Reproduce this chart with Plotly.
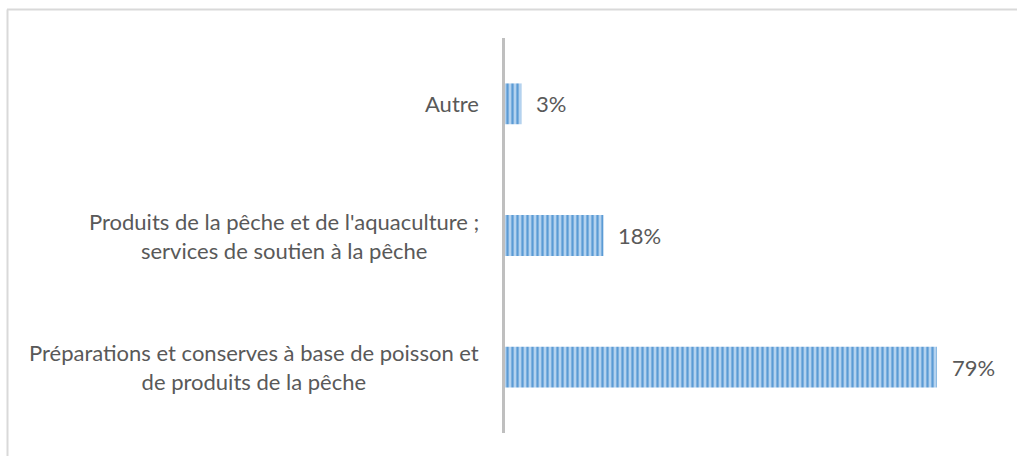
import plotly.graph_objects as go

categories = [
    "Préparations et conserves à base de poisson et<br>de produits de la pêche",
    "Produits de la pêche et de l'aquaculture ;<br>services de soutien à la pêche",
    "Autre",
]
values = [0.79, 0.18, 0.03]
value_labels = ["79%", "18%", "3%"]

W, H = 1017, 456
L, R, T, B = 505, 20, 38, 23
pw = W - L - R
ph = H - T - B

def px_x(px):
    return (px - L) / pw

def px_y(py):
    return (H - B - py) / ph

font_family = "Lato, 'Open Sans', sans-serif"
text_color = "#595959"

fig = go.Figure()
fig.add_trace(go.Bar(
    y=categories,
    x=values,
    orientation="h",
    width=0.31,
    marker=dict(
        color="#9DC3E6",
        line=dict(width=0),
        pattern=dict(shape="|", fgcolor="#5B9BD5", bgcolor="#B4D2EF",
                     size=5, solidity=0.45, fillmode="replace"),
    ),
    hoverinfo="skip",
))

annotations = []
for c, v, t in zip(categories, values, value_labels):
    annotations.append(dict(
        x=v, y=c, xref="x", yref="y", text=t, showarrow=False,
        xanchor="left", xshift=13, font=dict(family=font_family, size=22, color=text_color),
    ))
    annotations.append(dict(
        x=0, y=c, xref="paper", yref="y", text=c, showarrow=False,
        xanchor="right", align="center", xshift=-24,
        font=dict(family=font_family, size=22, color=text_color),
    ))

shapes = [
    dict(type="line", xref="paper", yref="paper", x0=px_x(7), x1=px_x(1025),
         y0=px_y(9.5), y1=px_y(9.5), line=dict(color="#D9D9D9", width=2)),
    dict(type="line", xref="paper", yref="paper", x0=px_x(7.5), x1=px_x(7.5),
         y0=px_y(9.5), y1=px_y(470), line=dict(color="#D9D9D9", width=2)),
]

fig.update_layout(
    width=W, height=H,
    margin=dict(l=L, r=R, t=T, b=B),
    paper_bgcolor="white", plot_bgcolor="white",
    showlegend=False,
    xaxis=dict(range=[0, 0.9], visible=False, showgrid=False, zeroline=False),
    yaxis=dict(showticklabels=False, showgrid=False, zeroline=False,
               showline=True, linecolor="#BFBFBF", linewidth=3, ticks=""),
    annotations=annotations,
    shapes=shapes,
)

fig.write_html("out.html", config={"displayModeBar": False},
               post_script="document.body.style.margin='0';")
